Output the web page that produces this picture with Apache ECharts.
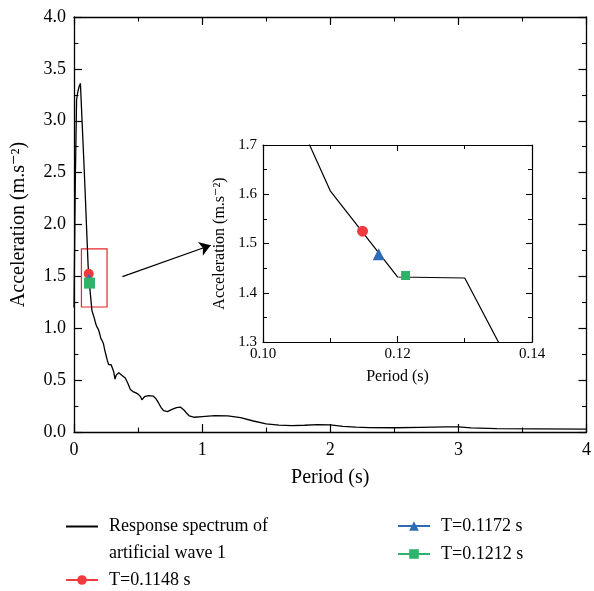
<!DOCTYPE html>
<html>
<head>
<meta charset="utf-8">
<script src="https://cdn.jsdelivr.net/npm/echarts@6/dist/echarts.min.js"></script>
<style>
html,body{margin:0;padding:0;background:#fff;}
#chart{width:594px;height:591px;}
</style>
</head>
<body>
<div id="chart"></div>
<script>
// Response spectrum of artificial wave 1
const periods = [0, 0.01, 0.02, 0.03, 0.04, 0.05, 0.06, 0.07, 0.08, 0.09,
  0.10, 0.11, 0.12, 0.13, 0.14, 0.15, 0.16, 0.17, 0.18, 0.19,
  0.20, 0.21, 0.22, 0.23, 0.24, 0.25, 0.26, 0.27, 0.28, 0.29,
  0.30, 0.31, 0.32, 0.33, 0.34, 0.35, 0.36, 0.38, 0.40, 0.42,
  0.44, 0.46, 0.48, 0.50, 0.52, 0.53, 0.55, 0.58, 0.62, 0.64,
  0.66, 0.68, 0.70, 0.73, 0.76, 0.80, 0.83, 0.86, 0.88, 0.90,
  0.94, 1.0, 1.1, 1.2, 1.3, 1.4, 1.5, 1.6, 1.7, 1.8,
  1.9, 2.0, 2.1, 2.2, 2.3, 2.5, 2.7, 2.9, 3.0, 3.1,
  3.3, 3.6, 4.0];
const accels = [1.2, 2.4, 3.2, 3.28, 3.33, 3.36, 3.08, 2.80, 2.52, 2.22,
  1.91, 1.607, 1.432, 1.430, 1.17, 1.13, 1.09, 1.04, 1.01, 0.99,
  0.95, 0.90, 0.88, 0.85, 0.79, 0.74, 0.69, 0.65, 0.645, 0.648,
  0.63, 0.58, 0.51, 0.55, 0.565, 0.57, 0.56, 0.54, 0.52, 0.47,
  0.41, 0.39, 0.38, 0.365, 0.34, 0.31, 0.34, 0.35, 0.345, 0.32,
  0.28, 0.235, 0.205, 0.196, 0.215, 0.235, 0.24, 0.21, 0.18, 0.155,
  0.142, 0.148, 0.157, 0.155, 0.138, 0.106, 0.078, 0.066, 0.061, 0.065,
  0.072, 0.068, 0.055, 0.047, 0.043, 0.041, 0.045, 0.049, 0.05, 0.04,
  0.033, 0.03, 0.027];

const lineName = 'Response spectrum of\nartificial wave 1';
const markerNames = ['T=0.1148 s', 'T=0.1172 s', 'T=0.1212 s'];
const markerPeriods = [0.1148, 0.1172, 0.1212];
const markerAccels = [1.525, 1.478, 1.435];
const markerSymbols = ['circle', 'triangle', 'rect'];
const markerColors = ['#ef3b40', '#2e6bb6', '#2db36b'];

// annotation (data coordinates of main chart)
const zoomBox = [[0.058, 1.205], [0.258, 1.765]];
const arrowLine = [[0.378, 1.497], [1.067, 1.80]];

const curve = periods.map((p, i) => [p, accels[i]]);
const FONT = '"Liberation Serif", "DejaVu Serif", serif';

function mirrorAxis(base, extra) { return Object.assign({}, base, extra); }

const mainX = {
  gridIndex: 0, type: 'value', min: 0, max: 4, interval: 1,
  axisLine: { show: true, onZero: false, lineStyle: { color: '#000', width: 1.3 } },
  axisTick: { show: true, inside: true, length: 8, lineStyle: { color: '#000', width: 1.2 } },
  minorTick: { show: true, splitNumber: 2, length: 4.5, lineStyle: { color: '#000', width: 1.1 } },
  splitLine: { show: false }, minorSplitLine: { show: false }
};
const mainY = {
  gridIndex: 0, type: 'value', min: 0, max: 4, interval: 0.5,
  axisLine: { show: true, onZero: false, lineStyle: { color: '#000', width: 1.3 } },
  axisTick: { show: true, inside: true, length: 8, lineStyle: { color: '#000', width: 1.2 } },
  minorTick: { show: true, splitNumber: 2, length: 4.5, lineStyle: { color: '#000', width: 1.1 } },
  splitLine: { show: false }, minorSplitLine: { show: false }
};
const insX = {
  gridIndex: 1, type: 'value', min: 0.10, max: 0.14, interval: 0.02, z: 6,
  axisLine: { show: true, onZero: false, lineStyle: { color: '#000', width: 1.2 } },
  axisTick: { show: true, inside: true, length: 6, lineStyle: { color: '#000', width: 1.1 } },
  minorTick: { show: true, splitNumber: 2, length: 4, lineStyle: { color: '#000', width: 1 } },
  splitLine: { show: false }, minorSplitLine: { show: false }
};
const insY = {
  gridIndex: 1, type: 'value', min: 1.3, max: 1.7, interval: 0.1, z: 6,
  axisLine: { show: true, onZero: false, lineStyle: { color: '#000', width: 1.2 } },
  axisTick: { show: true, inside: true, length: 6, lineStyle: { color: '#000', width: 1.1 } },
  minorTick: { show: true, splitNumber: 2, length: 4, lineStyle: { color: '#000', width: 1 } },
  splitLine: { show: false }, minorSplitLine: { show: false }
};

const series = [
  {
    name: lineName, type: 'line', xAxisIndex: 0, yAxisIndex: 0,
    data: curve, showSymbol: false, symbol: 'none',
    lineStyle: { color: '#000', width: 1.3 }, itemStyle: { color: '#000' },
    z: 2,
    markArea: {
      silent: true,
      itemStyle: { color: 'rgba(0,0,0,0)', borderColor: '#e8232a', borderWidth: 1.2 },
      data: [[{ coord: zoomBox[0] }, { coord: zoomBox[1] }]]
    },
    markLine: {
      silent: true, symbol: ['none', 'arrow'], symbolSize: 11,
      lineStyle: { color: '#000', width: 1.3, type: 'solid' },
      label: { show: false },
      data: [[{ coord: arrowLine[0] }, { coord: arrowLine[1] }]]
    }
  },
  {
    name: lineName, type: 'line', xAxisIndex: 2, yAxisIndex: 2,
    data: curve, showSymbol: false, symbol: 'none', clip: true,
    lineStyle: { color: '#000', width: 1.2 }, itemStyle: { color: '#000' }, z: 3
  }
];
const mainSizes = [10, 10, 11];
const insetSizes = [11, 12, 9];
markerNames.forEach((n, i) => {
  series.push({
    name: n, type: 'line', xAxisIndex: 0, yAxisIndex: 0,
    data: [[markerPeriods[i], markerAccels[i]]],
    symbol: markerSymbols[i], symbolSize: mainSizes[i], showSymbol: true,
    itemStyle: { color: markerColors[i] }, lineStyle: { color: markerColors[i], width: 1.2 }, z: 4 + i
  });
  series.push({
    name: n, type: 'line', xAxisIndex: 2, yAxisIndex: 2,
    data: [[markerPeriods[i], markerAccels[i]]],
    symbol: markerSymbols[i], symbolSize: insetSizes[i], showSymbol: true,
    itemStyle: { color: markerColors[i] }, lineStyle: { color: markerColors[i], width: 1.2 }, z: 4 + i
  });
});

const legendBase = {
  orient: 'vertical', itemWidth: 32, itemHeight: 12, itemGap: 8,
  textStyle: { fontFamily: FONT, fontSize: 18, color: '#000', lineHeight: 20, padding: [0, 0, 0, 6] }
};

const option = {
  animation: false,
  backgroundColor: '#fff',
  textStyle: { fontFamily: FONT },
  grid: [
    { left: 74, right: 4, top: 17, bottom: 159, show: false },
    { left: 263, right: 62, top: 145, bottom: 249, show: true, backgroundColor: '#fff', borderWidth: 0 }
  ],
  xAxis: [
    mirrorAxis(mainX, { position: 'bottom',
      axisLabel: { show: true, margin: 9, color: '#000', fontFamily: FONT, fontSize: 18 },
      name: 'Period (s)', nameLocation: 'middle', nameGap: 36,
      nameTextStyle: { fontFamily: FONT, fontSize: 20, color: '#000' } }),
    mirrorAxis(mainX, { position: 'top', axisLabel: { show: false } }),
    mirrorAxis(insX, { position: 'bottom',
      axisLabel: { show: true, margin: 5, color: '#000', fontFamily: FONT, fontSize: 15, formatter: v => v.toFixed(2) },
      name: 'Period (s)', nameLocation: 'middle', nameGap: 27,
      nameTextStyle: { fontFamily: FONT, fontSize: 16, color: '#000' } }),
    mirrorAxis(insX, { position: 'top', axisLabel: { show: false } })
  ],
  yAxis: [
    mirrorAxis(mainY, { position: 'left',
      axisLabel: { show: true, margin: 8, color: '#000', fontFamily: FONT, fontSize: 18, formatter: v => v.toFixed(1) },
      name: 'Acceleration (m.s⁻²)', nameLocation: 'middle', nameGap: 45, nameRotate: 90,
      nameTextStyle: { fontFamily: FONT, fontSize: 20, color: '#000' } }),
    mirrorAxis(mainY, { position: 'right', axisLabel: { show: false } }),
    mirrorAxis(insY, { position: 'left',
      axisLabel: { show: true, margin: 6, color: '#000', fontFamily: FONT, fontSize: 15, formatter: v => v.toFixed(1) },
      name: 'Acceleration (m.s⁻²)', nameLocation: 'middle', nameGap: 35, nameRotate: 90,
      nameTextStyle: { fontFamily: FONT, fontSize: 16, color: '#000' } }),
    mirrorAxis(insY, { position: 'right', axisLabel: { show: false } })
  ],
  legend: [
    Object.assign({}, legendBase, {
      left: 60, top: 481,
      data: [{ name: lineName, itemStyle: { opacity: 0 } }],
      formatter: name => ' \n' + name,
      textStyle: { fontFamily: FONT, fontSize: 18, color: '#000', lineHeight: 27, padding: [0, 0, 0, 6] }
    }),
    Object.assign({}, legendBase, { left: 60, top: 565, data: [markerNames[0]] }),
    Object.assign({}, legendBase, { left: 392, top: 511, data: [markerNames[1], markerNames[2]] })
  ],
  series: series
};

const chart = echarts.init(document.getElementById('chart'), null, { renderer: 'canvas' });
chart.setOption(option);
</script>
</body>
</html>
